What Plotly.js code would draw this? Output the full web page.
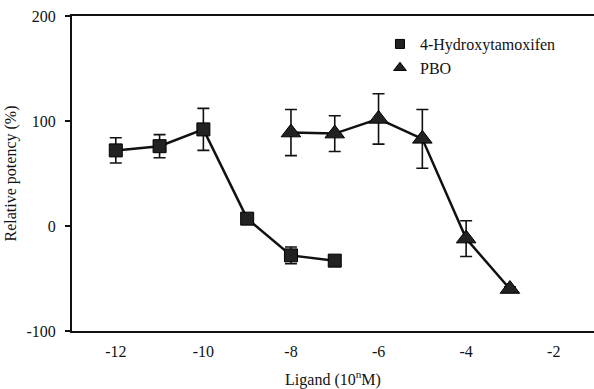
<!DOCTYPE html>
<html>
<head>
<meta charset="utf-8">
<script src="https://cdn.plot.ly/plotly-3.0.1.min.js"></script>
<style>html,body{margin:0;padding:0;background:#fff;overflow:hidden}</style>
</head>
<body>
<div id="chart" style="width:594px;height:389px"></div>
<script>
// Log ligand concentration (10^n M)
const hydroxyX = [-12, -11, -10, -9, -8, -7];
const hydroxyY = [72, 76, 92, 7, -28, -33];
const hydroxyErr = [12, 11, 20, 2, 8, 3];

const pboX = [-8, -7, -6, -5, -4, -3];
const pboY = [89, 88, 102, 83, -12, -60];
const pboErr = [22, 17, 24, 28, 17, 2];

const xTicks = [-12, -10, -8, -6, -4, -2];
const xTickText = ['-12', '-10', '-8', '-6', '-4', '-2'];
const yTicks = [-100, 0, 100, 200];
const yTickText = ['-100', '0', '100', '200'];

const serif = 'Liberation Serif, Times New Roman, serif';
const ink = '#111';

function series(name, x, y, err, symbol, size, legendSize) {
  return [
    // connecting line
    {x: x, y: y, mode: 'lines', showlegend: false, hoverinfo: 'skip',
     line: {color: ink, width: 2.5}},
    // markers with error bars
    {x: x, y: y, mode: 'markers', showlegend: false,
     marker: {symbol: symbol, size: size, color: '#222', line: {color: '#000', width: 1}},
     error_y: {type: 'data', array: err, visible: true, color: ink, thickness: 1.6, width: 6}},
    // legend entry with a smaller key symbol
    {x: [null], y: [null], name: name, mode: 'markers',
     marker: {symbol: symbol, size: legendSize, color: '#222', line: {color: '#000', width: 1}}}
  ];
}

const data = [].concat(
  series('4-Hydroxytamoxifen', hydroxyX, hydroxyY, hydroxyErr, 'square', 13, 9),
  series('PBO', pboX, pboY, pboErr, 'triangle-up', 17, 11)
);

const layout = {
  width: 594, height: 389,
  margin: {l: 72, r: 0, t: 16, b: 58},
  paper_bgcolor: '#fff', plot_bgcolor: '#fff',
  font: {family: serif, color: ink, size: 16},
  showlegend: true,
  legend: {x: 0.59, y: 0.965, xanchor: 'left', yanchor: 'top',
           font: {family: serif, size: 16, color: ink},
           bgcolor: 'rgba(0,0,0,0)', tracegroupgap: 0},
  xaxis: {
    range: [-13, -1.08], tickvals: xTicks, ticktext: xTickText, ticks: '',
    ticklabelstandoff: 5, showgrid: false, zeroline: false,
    showline: true, linecolor: ink, linewidth: 2, mirror: true,
    tickfont: {family: serif, size: 16, color: ink},
    title: {text: 'Ligand (10<sup>n</sup>M)', standoff: 18,
            font: {family: serif, size: 16, color: ink}}
  },
  yaxis: {
    range: [-100, 200], tickvals: yTicks, ticktext: yTickText,
    ticks: 'outside', ticklen: 5, tickwidth: 1.5, tickcolor: ink,
    ticklabelstandoff: 6, showgrid: false, zeroline: false,
    showline: true, linecolor: ink, linewidth: 2,
    tickfont: {family: serif, size: 16, color: ink},
    title: {text: 'Relative potency (%)', standoff: 6,
            font: {family: serif, size: 16, color: ink}}
  }
};

Plotly.newPlot('chart', data, layout, {staticPlot: true, displayModeBar: false});
</script>
</body>
</html>
